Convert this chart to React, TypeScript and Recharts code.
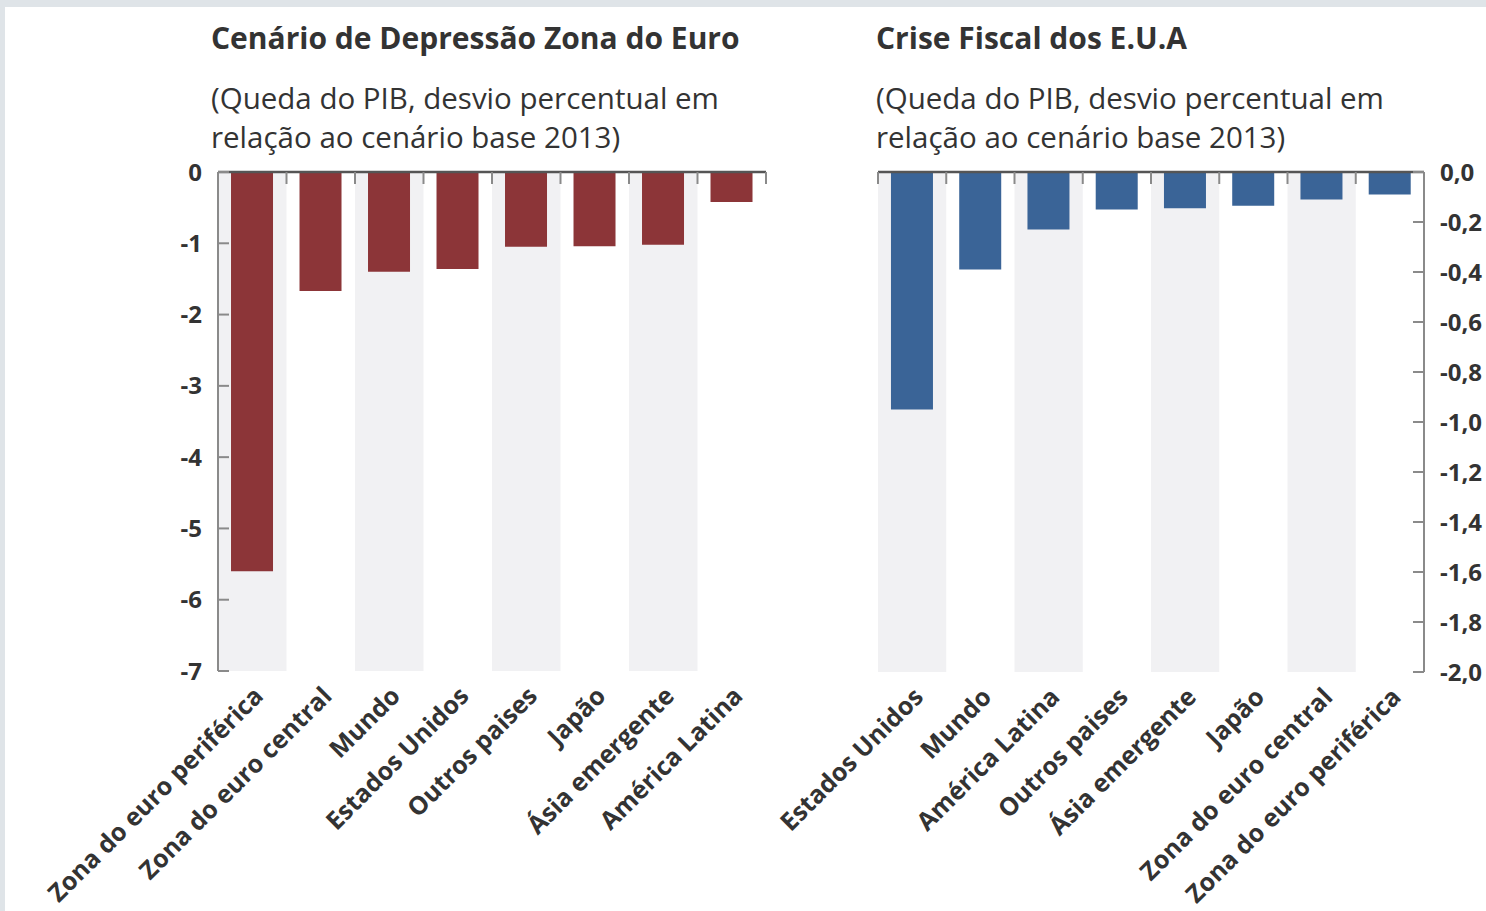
import { BarChart, Bar, XAxis, YAxis, ReferenceArea } from 'recharts';

const euroCategories = [
  'Zona do euro periférica', 'Zona do euro central', 'Mundo', 'Estados Unidos',
  'Outros paises', 'Japão', 'Ásia emergente', 'América Latina',
];
const euroValues = [-5.6, -1.67, -1.4, -1.36, -1.05, -1.04, -1.02, -0.42];
const euroTicks = [0, -1, -2, -3, -4, -5, -6, -7];

const usaCategories = [
  'Estados Unidos', 'Mundo', 'América Latina', 'Outros paises',
  'Ásia emergente', 'Japão', 'Zona do euro central', 'Zona do euro periférica',
];
const usaValues = [-0.95, -0.39, -0.23, -0.15, -0.145, -0.135, -0.11, -0.09];
const usaTicks = [0, -0.2, -0.4, -0.6, -0.8, -1, -1.2, -1.4, -1.6, -1.8, -2];

const FONT = '"Open Sans", "Noto Sans", sans-serif';
const TEXT = '#333';
const AXIS_GRAY = '#8a8a8a';
const BAND = '#f1f1f3';

// short tick marks on the band boundaries of the top axis
function BoundaryTick(props: any) {
  const { x, y, payload, index } = props;
  const half = payload?.offset ?? 0;
  return (
    <g>
      <line x1={x + half} x2={x + half} y1={y} y2={y + 12} stroke={AXIS_GRAY} strokeWidth={2} />
      {index === 0 && <line x1={x - half} x2={x - half} y1={y} y2={y + 12} stroke={AXIS_GRAY} strokeWidth={2} />}
    </g>
  );
}

interface PanelProps {
  categories: string[];
  values: number[];
  color: string;
  yTicks: number[];
  side: 'left' | 'right';
  fmt: (v: number) => string;
}

function Panel({ categories, values, color, yTicks, side, fmt }: PanelProps) {
  const data = categories.map((name, i) => ({ name, value: values[i] }));
  const lo = yTicks[yTicks.length - 1];
  const margin = side === 'left'
    ? { top: 22, right: 34, bottom: 10, left: 158 }
    : { top: 22, right: 2, bottom: 9, left: 178 };
  return (
    <BarChart width={side === 'left' ? 800 : 786} height={761} data={data} margin={margin} barCategoryGap="19%">
      <XAxis
        xAxisId="cat"
        dataKey="name"
        interval={0}
        angle={-45}
        textAnchor="end"
        tickLine={false}
        axisLine={false}
        height={230}
        tickMargin={8}
        tick={{ fontSize: 25, fontWeight: 700, fill: TEXT, fontFamily: FONT }}
      />
      {categories.filter((_, i) => i % 2 === 0).map((c) => (
        <ReferenceArea key={c} xAxisId="cat" x1={c} x2={c} fill={BAND} fillOpacity={1} stroke="none" />
      ))}
      <Bar xAxisId="cat" dataKey="value" fill={color} isAnimationActive={false} />
      <XAxis
        xAxisId="top"
        dataKey="name"
        orientation="top"
        mirror
        interval={0}
        tickLine={false}
        tickSize={0}
        tickMargin={0}
        tick={<BoundaryTick />}
        axisLine={{ stroke: '#555', strokeWidth: 2.5 }}
      />
      <YAxis
        orientation={side}
        domain={[lo, 0]}
        ticks={yTicks}
        interval={0}
        width={60}
        tickFormatter={fmt}
        tickSize={-11}
        tickMargin={27}
        axisLine={{ stroke: AXIS_GRAY, strokeWidth: 2 }}
        tickLine={{ stroke: AXIS_GRAY, strokeWidth: 2 }}
        tick={{ fontSize: 24, fontWeight: 700, fill: TEXT, fontFamily: FONT }}
      />
    </BarChart>
  );
}

const titleStyle: React.CSSProperties = {
  position: 'absolute', fontFamily: FONT, color: TEXT, fontWeight: 700, fontSize: 30, lineHeight: '34px', whiteSpace: 'nowrap',
};
const subStyle: React.CSSProperties = {
  position: 'absolute', fontFamily: FONT, color: TEXT, fontWeight: 400, fontSize: 29.5, lineHeight: '39px', whiteSpace: 'nowrap',
};

export default function App() {
  return (
    <div style={{ position: 'absolute', left: 0, top: 0, width: 1486, height: 911, background: '#dfe4e8', overflow: 'hidden' }}>
      <div style={{ position: 'absolute', left: 5, top: 7, right: 0, bottom: 0, background: '#fff' }} />
      <div style={{ ...titleStyle, left: 211, top: 21 }}>Cenário de Depressão Zona do Euro</div>
      <div style={{ ...subStyle, left: 211, top: 78 }}>
        (Queda do PIB, desvio percentual em<br />relação ao cenário base 2013)
      </div>
      <div style={{ ...titleStyle, left: 876, top: 21 }}>Crise Fiscal dos E.U.A</div>
      <div style={{ ...subStyle, left: 876, top: 78 }}>
        (Queda do PIB, desvio percentual em<br />relação ao cenário base 2013)
      </div>
      <div style={{ position: 'absolute', left: 0, top: 150 }}>
        <Panel categories={euroCategories} values={euroValues} color="#8c3538" yTicks={euroTicks} side="left" fmt={(v) => String(v)} />
      </div>
      <div style={{ position: 'absolute', left: 700, top: 150 }}>
        <Panel categories={usaCategories} values={usaValues} color="#3a6497" yTicks={usaTicks} side="right" fmt={(v) => v.toFixed(1).replace('.', ',')} />
      </div>
    </div>
  );
}
